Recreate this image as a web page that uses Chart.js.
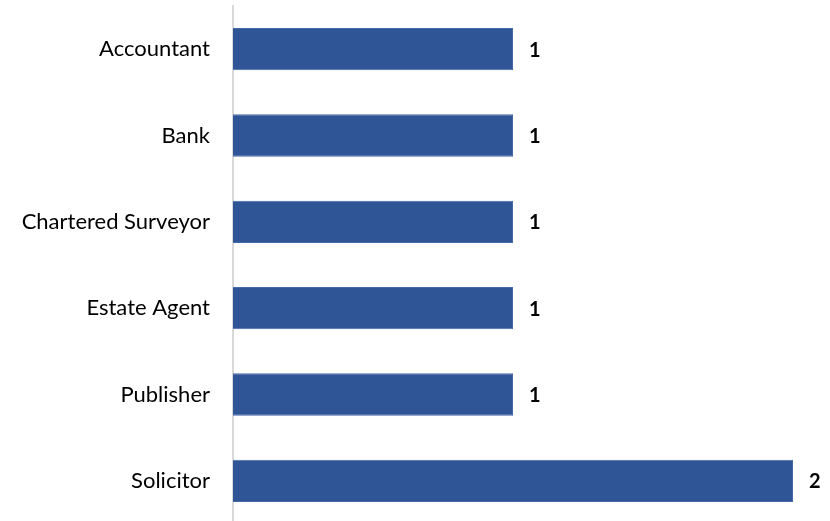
<!DOCTYPE html>
<html>
<head>
<meta charset="utf-8">
<script src="https://cdn.jsdelivr.net/npm/chart.js@4"></script>
<style>
  html, body { margin: 0; padding: 0; background: #fff; overflow: hidden; }
  canvas { display: block; }
</style>
</head>
<body>
<canvas id="bar_professions" width="830" height="524"></canvas>
<script>
const professions = ["Accountant", "Bank", "Chartered Surveyor", "Estate Agent", "Publisher", "Solicitor"];
const counts = [1, 1, 1, 1, 1, 2];

// prints each bar's value just past its end
const valueLabels = {
    id: "valueLabels",
    afterDatasetsDraw(chart) {
        const ctx = chart.ctx;
        const meta = chart.getDatasetMeta(0);
        ctx.save();
        ctx.font = "bold 20px Lato, 'Open Sans', sans-serif";
        ctx.fillStyle = "#000";
        ctx.textAlign = "left";
        ctx.textBaseline = "middle";
        meta.data.forEach((bar, i) => {
            ctx.fillText(String(counts[i]), bar.x + 16, bar.y + 1);
        });
        ctx.restore();
    }
};

const config_professions = {
    type: "bar",
    data: {
        labels: professions,
        datasets: [{
            label: "count",
            data: counts,
            backgroundColor: "#2F5597",
            borderColor: "#4469a8",
            borderWidth: 1,
            barPercentage: 0.49,
            categoryPercentage: 1.0
        }]
    },
    options: {
        responsive: false,
        indexAxis: "y",
        animation: false,
        layout: { padding: { top: 6, right: 37, bottom: 0, left: 0 } },
        plugins: {
            legend: { display: false },
            tooltip: { enabled: false }
        },
        scales: {
            x: {
                display: false,
                min: 0,
                max: 2
            },
            y: {
                grid: { display: false, drawTicks: false },
                border: { display: true, color: "#d9d9d9", width: 2 },
                ticks: {
                    color: "#000",
                    padding: 23,
                    font: { family: "Lato, 'Open Sans', sans-serif", size: 22 }
                },
                afterFit(scale) {
                    scale.width = 233;
                    // no extra room above/below for the first and last label
                    scale.paddingTop = 0;
                    scale.paddingBottom = 0;
                }
            }
        }
    },
    plugins: [valueLabels]
};

const ctx_professions = document.getElementById("bar_professions").getContext("2d");
const chart_professions = new Chart(ctx_professions, config_professions);
</script>
</body>
</html>
